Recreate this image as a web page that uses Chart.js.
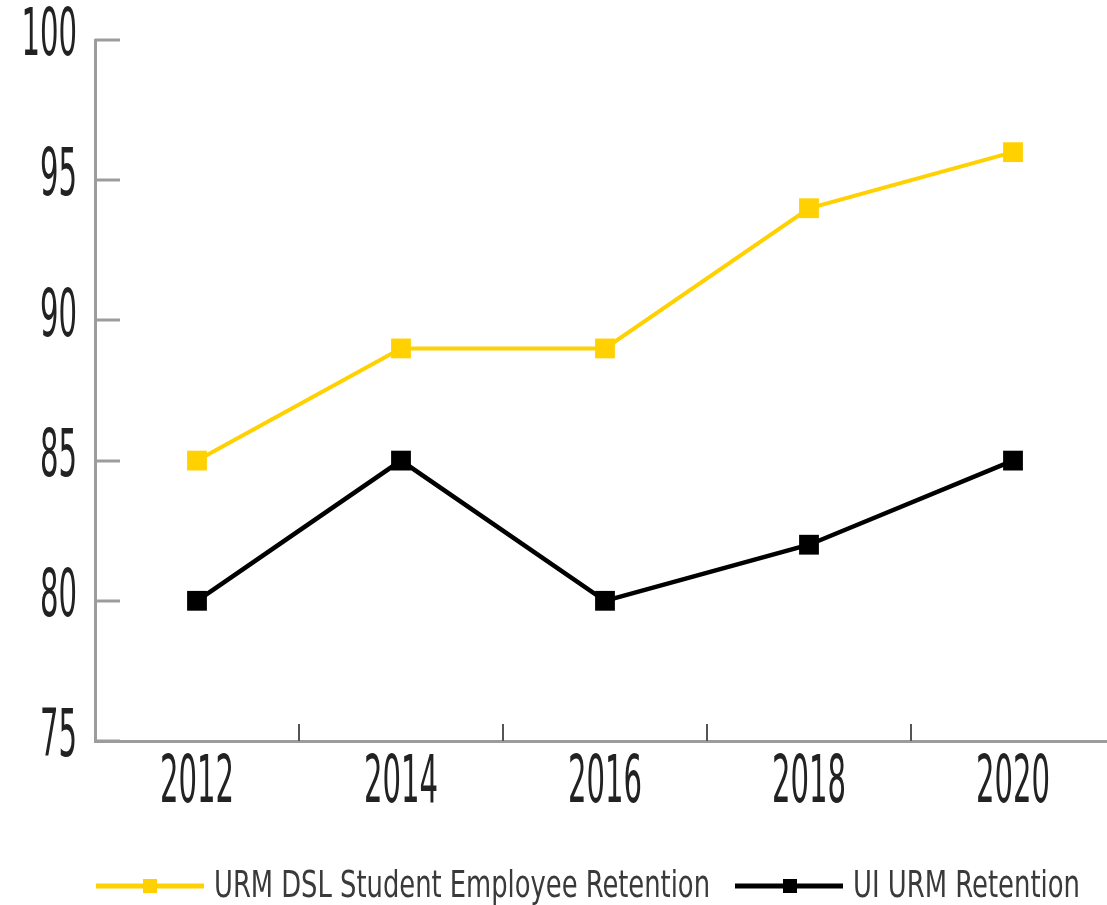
<!DOCTYPE html>
<html>
<head>
<meta charset="utf-8">
<script src="https://cdn.jsdelivr.net/npm/chart.js@4.4.1/dist/chart.umd.min.js"></script>
<style>
  html, body { margin: 0; padding: 0; background: #fff; overflow: hidden; }
  #chart { display: block; }
</style>
</head>
<body>
<canvas id="chart" width="1115" height="905"></canvas>
<script>
// Data
const YEARS = ["2012", "2014", "2016", "2018", "2020"];
const DSL_RETENTION = [85, 89, 89, 94, 96];
const UI_RETENTION = [80, 85, 80, 82, 85];
const Y_TICKS = [75, 80, 85, 90, 95, 100];
const SERIES_NAMES = ["URM DSL Student Employee Retention", "UI URM Retention"];
const SERIES_COLORS = ["#FFD100", "#000000"];

const NARROW = "'Liberation Sans Narrow', 'DejaVu Sans Condensed', 'Arial Narrow', sans-serif";
const AXIS_GRAY = "#9c9c9c";
const TEXT_COLOR = "#222";

// draw horizontally squeezed text (condensed look of the original)
function drawCondensed(ctx, text, x, y, opts) {
  ctx.save();
  ctx.font = opts.size + "px " + NARROW;
  const w = ctx.measureText(text).width;
  let sx;
  if (opts.width) sx = opts.width / w;
  else sx = opts.digit / ctx.measureText("0").width;
  const drawnW = w * sx;
  let left = x;
  if (opts.align === "right") left = x - drawnW;
  else if (opts.align === "center") left = x - drawnW / 2;
  ctx.translate(left, y);
  ctx.scale(sx, 1);
  ctx.fillStyle = opts.color || TEXT_COLOR;
  ctx.textAlign = "left";
  ctx.textBaseline = "middle";
  ctx.fillText(text, 0, 0);
  ctx.restore();
}

const decorations = {
  id: "decorations",
  afterDraw(chart) {
    const { ctx, chartArea, scales } = chart;
    const xs = scales.x, ys = scales.y;

    ctx.save();
    // y tick marks, pointing into the plot
    ctx.strokeStyle = AXIS_GRAY;
    ctx.lineWidth = 3;
    Y_TICKS.forEach(v => {
      const y = Math.round(ys.getPixelForValue(v));
      ctx.beginPath();
      ctx.moveTo(chartArea.left, y);
      ctx.lineTo(chartArea.left + 25, y);
      ctx.stroke();
    });
    // x tick marks between categories, pointing up
    ctx.strokeStyle = "#555";
    ctx.lineWidth = 2;
    for (let i = 1; i < YEARS.length; i++) {
      const x = Math.round((xs.getPixelForValue(i - 1) + xs.getPixelForValue(i)) / 2);
      ctx.beginPath();
      ctx.moveTo(x, chartArea.bottom - 17);
      ctx.lineTo(x, chartArea.bottom);
      ctx.stroke();
    }
    ctx.restore();

    // tick labels
    Y_TICKS.forEach(v => {
      drawCondensed(ctx, String(v), 77, ys.getPixelForValue(v) - 2, { size: 66, digit: 18.5, align: "right" });
    });
    YEARS.forEach((yr, i) => {
      drawCondensed(ctx, yr, xs.getPixelForValue(i), 785, { size: 66, digit: 18.5, align: "center" });
    });

    // legend
    const legendY = 886;
    const items = [
      { x0: 96, x1: 204, mark: 150, tx: 214, tw: 496 },
      { x0: 735, x1: 843, mark: 790, tx: 853, tw: 227 }
    ];
    items.forEach((it, i) => {
      ctx.save();
      ctx.strokeStyle = SERIES_COLORS[i];
      ctx.fillStyle = SERIES_COLORS[i];
      ctx.lineWidth = 5;
      ctx.beginPath();
      ctx.moveTo(it.x0, legendY);
      ctx.lineTo(it.x1, legendY);
      ctx.stroke();
      ctx.fillRect(it.mark - 7, legendY - 7, 14, 14);
      ctx.restore();
      drawCondensed(ctx, SERIES_NAMES[i], it.tx, legendY + 1, { size: 38, width: it.tw, color: "#3a3a3a" });
    });
  }
};

new Chart(document.getElementById("chart"), {
  type: "line",
  data: {
    labels: YEARS,
    datasets: [
      {
        label: SERIES_NAMES[0],
        data: DSL_RETENTION,
        borderColor: SERIES_COLORS[0],
        backgroundColor: SERIES_COLORS[0],
        borderWidth: 4,
        pointStyle: "rect",
        pointRadius: 14,
        pointBorderWidth: 0,
        tension: 0
      },
      {
        label: SERIES_NAMES[1],
        data: UI_RETENTION,
        borderColor: SERIES_COLORS[1],
        backgroundColor: SERIES_COLORS[1],
        borderWidth: 4.5,
        pointStyle: "rect",
        pointRadius: 14,
        pointBorderWidth: 0,
        tension: 0
      }
    ]
  },
  options: {
    responsive: false,
    animation: false,
    layout: { autoPadding: false, padding: { top: 40, right: 0, bottom: 0, left: 0 } },
    plugins: { legend: { display: false }, tooltip: { enabled: false } },
    scales: {
      x: {
        type: "category",
        offset: true,
        grid: { display: false },
        ticks: { display: false },
        border: { display: true, color: AXIS_GRAY, width: 3 },
        afterFit(scale) { scale.height = 164; }
      },
      y: {
        min: 75,
        max: 100,
        grid: { display: false },
        ticks: { display: false, stepSize: 5 },
        border: { display: true, color: AXIS_GRAY, width: 3 },
        afterFit(scale) { scale.width = 95; }
      }
    }
  },
  plugins: [decorations]
});
</script>
</body>
</html>
